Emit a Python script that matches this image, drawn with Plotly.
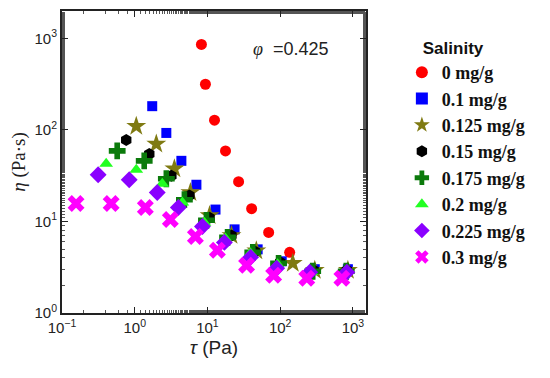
import plotly.graph_objects as go

# ---- data (tau in Pa, eta in Pa·s) ----
labels = ["0 mg/g", "0.1 mg/g", "0.125 mg/g", "0.15 mg/g", "0.175 mg/g", "0.2 mg/g", "0.225 mg/g", "0.3 mg/g"]

tau_0 = [8.26, 9.38, 12.5, 17.7, 26.8, 40.5, 69.4, 135]
eta_0 = [861, 316, 128, 59, 27.2, 13.8, 7.6, 4.6]

tau_01 = [1.74, 2.72, 4.38, 7.05, 12.9, 23.6, 49, 105, 299, 853]
eta_01 = [182, 92.8, 46, 25.2, 13.5, 8.2, 4.96, 3.67, 3.01, 3.01]

tau_0125 = [1.05, 1.98, 3.51, 5.83, 10.7, 21.4, 47, 149, 299, 853]
eta_0125 = [110, 70.4, 37.6, 20.7, 11.6, 7.05, 4.8, 3.49, 2.93, 2.93]

tau_015 = [0.764, 1.585, 3.19, 5.65, 10.7, 21.4, 45, 100, 288, 826]
eta_015 = [77.9, 54.8, 31.6, 19.2, 11.0, 7.05, 4.7, 3.58, 2.93, 2.93]

tau_0175 = [0.574, 1.35, 2.72, 4.82, 9.69, 18.9, 42, 95, 280, 810]
eta_0175 = [59.1, 46, 29.3, 17.3, 10.3, 6.7, 4.6, 3.49, 2.86, 2.86]

tau_02 = [0.405, 1.05, 2.39, 4.52, 9.1, 17.7, 39, 92, 270, 780]
eta_02 = [42.7, 36.7, 25.9, 16.1, 9.7, 6.5, 4.5, 3.4, 2.8, 2.8]

tau_0225 = [0.314, 0.84, 2.04, 3.98, 8.53, 17.1, 39.2, 89.5, 255, 826]
eta_0225 = [32.4, 28.6, 20.7, 14.2, 8.8, 5.91, 4.06, 3.08, 2.79, 2.79]

tau_03 = [0.156, 0.474, 1.40, 3.09, 6.83, 13.7, 34.5, 81.3, 232, 705]
eta_03 = [15.7, 15.7, 14.2, 10.5, 6.87, 4.84, 3.32, 2.59, 2.40, 2.40]

x_exponents = [-1, 0, 1, 2, 3]
y_exponents = [0, 1, 2, 3]

series = [
    (tau_0, eta_0, "circle", "#ff0000", 11),
    (tau_01, eta_01, "square", "#0000ff", 10),
    (tau_0125, eta_0125, "star", "#7f7a12", 15),
    (tau_015, eta_015, "hexagon", "#000000", 12),
    (tau_0175, eta_0175, "cross", "#0b7a0b", 14),
    (tau_02, eta_02, "triangle-up", "#22ff22", 12),
    (tau_0225, eta_0225, "diamond", "#8a00ff", 13),
    (tau_03, eta_03, "x", "#ff00ff", 15),
]

fig = go.Figure()
for (xs, ys, sym, col, sz), name in zip(series, labels):
    fig.add_trace(go.Scatter(
        x=xs, y=ys, mode="markers", name=name,
        marker=dict(symbol=sym, color=col, size=sz, line=dict(width=0)),
    ))

tickfont = dict(family="Liberation Sans, Arial, sans-serif", size=15, color="#222")

fig.update_xaxes(
    type="log", range=[-1, 3.18],
    tickvals=[10 ** e for e in x_exponents],
    ticktext=[f"10<sup>{'−' if e < 0 else ''}{abs(e)}</sup>" for e in x_exponents],
    ticks="inside", ticklen=6, tickwidth=1.2, tickcolor="#222",
    minor=dict(ticks="inside", ticklen=3, tickcolor="#555", showgrid=False),
    showline=True, linecolor="#222", linewidth=2, mirror="allticks",
    showgrid=False, zeroline=False, tickfont=tickfont,
    title=dict(text="<i>τ</i> (Pa)", font=dict(family="Liberation Sans, Arial, sans-serif", size=19, color="#222"), standoff=6),
)
fig.update_yaxes(
    type="log", range=[0, 3.3],
    tickvals=[10 ** e for e in y_exponents],
    ticktext=[f"10<sup>{e}</sup>" for e in y_exponents],
    ticks="inside", ticklen=6, tickwidth=1.2, tickcolor="#222",
    minor=dict(ticks="inside", ticklen=3, tickcolor="#555", showgrid=False),
    showline=True, linecolor="#222", linewidth=2, mirror="allticks",
    showgrid=False, zeroline=False, tickfont=tickfont,
    title=dict(text="<i>η</i> (Pa·s)", font=dict(family="Liberation Serif, Times New Roman, serif", size=19, color="#222"), standoff=10),
)

fig.add_annotation(
    xref="x", yref="y", x=2.145, y=2.88,
    text="<i><span style='font-family:Liberation Serif'>φ</span></i>  =0.425",
    showarrow=False, font=dict(family="Liberation Sans, Arial, sans-serif", size=18, color="#222"),
)

fig.update_layout(
    width=542, height=370,
    margin=dict(l=54, r=184, t=1, b=65),
    paper_bgcolor="white", plot_bgcolor="white",
    legend=dict(
        x=1.118, y=0.931, xanchor="left", yanchor="top",
        title=dict(text="&nbsp;&nbsp;&nbsp;&nbsp;<b>Salinity</b>", font=dict(family="Liberation Sans, Arial, sans-serif", size=17, color="#111")),
        font=dict(family="Liberation Serif, Times New Roman, serif", size=18, color="#111", weight="bold"),
        itemsizing="constant", tracegroupgap=0, bgcolor="rgba(0,0,0,0)",
    ),
)

fig.write_html("out.html")
